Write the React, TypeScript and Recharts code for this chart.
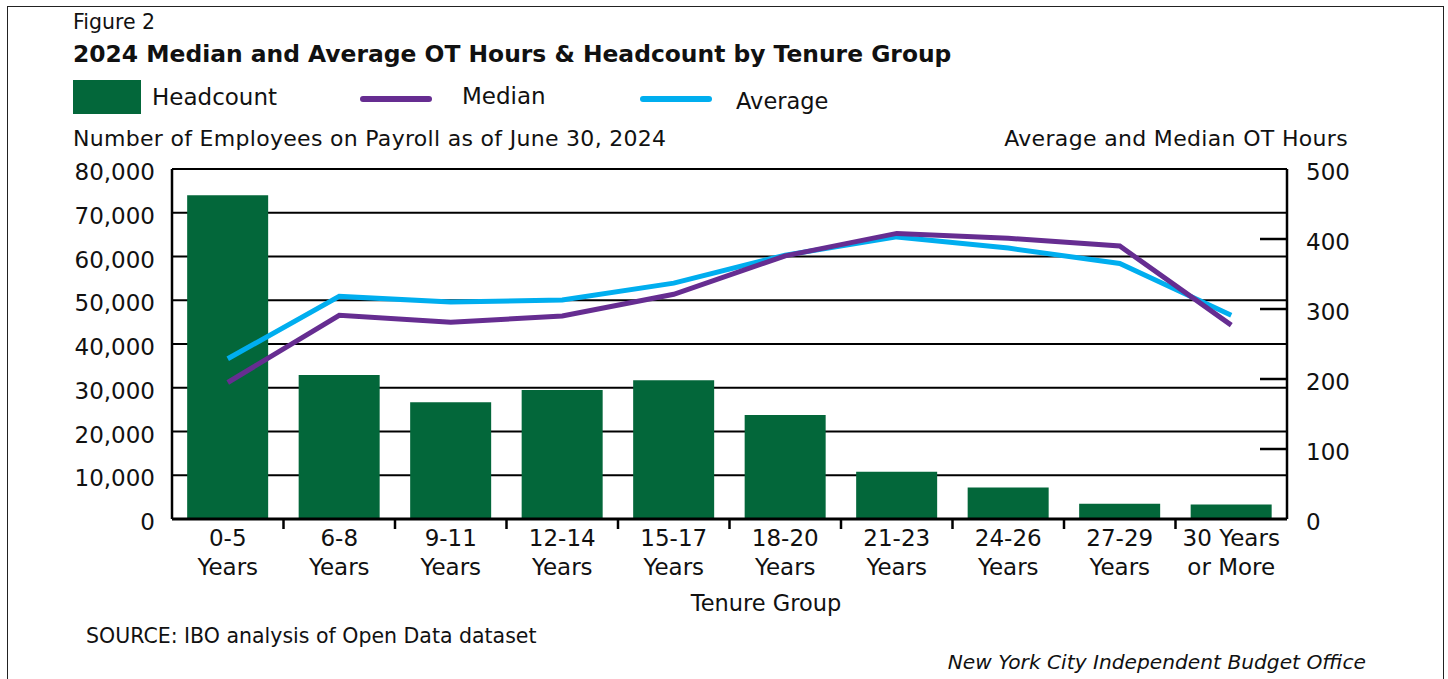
import React from 'react';
import { ComposedChart, Bar, Line, XAxis, YAxis, CartesianGrid } from 'recharts';

const categories = ['0-5 Years', '6-8 Years', '9-11 Years', '12-14 Years', '15-17 Years', '18-20 Years', '21-23 Years', '24-26 Years', '27-29 Years', '30 Years or More'];
const tickTop = ['0-5', '6-8', '9-11', '12-14', '15-17', '18-20', '21-23', '24-26', '27-29', '30 Years'];
const tickBottom = ['Years', 'Years', 'Years', 'Years', 'Years', 'Years', 'Years', 'Years', 'Years', 'or More'];
const headcount = [74000, 32900, 26700, 29500, 31700, 23800, 10800, 7200, 3500, 3300];
const median = [195, 291, 281, 290, 321, 376, 408, 401, 390, 277];
const average = [229, 318, 310, 313, 337, 377, 403, 387, 365, 291];
const leftTicks = [0, 10000, 20000, 30000, 40000, 50000, 60000, 70000, 80000];
const rightTicks = [0, 100, 200, 300, 400, 500];

const data = categories.map((c, i) => ({
  tenure: c,
  headcount: headcount[i],
  median: median[i],
  average: average[i],
}));

const GREEN = '#03673A';
const PURPLE = '#662D91';
const CYAN = '#00AEEF';
const FONT = '"DejaVu Sans", sans-serif';
const TXT = '#111';

const XTick = (props: any) => {
  const { x, y, payload } = props;
  const idx = categories.indexOf(payload.value);
  const half = payload.offset ?? 55.75;
  return (
    <g>
      {idx < categories.length - 1 && (
        <line x1={x + half} x2={x + half} y1={y} y2={y + 10} stroke="#000" strokeWidth={2.5} />
      )}
      <text x={x} y={y + 27} textAnchor="middle" fontSize={23} fontFamily={FONT} fill={TXT}>
        {tickTop[idx]}
      </text>
      <text x={x} y={y + 56} textAnchor="middle" fontSize={23} fontFamily={FONT} fill={TXT}>
        {tickBottom[idx]}
      </text>
    </g>
  );
};

const LeftTick = (props: any) => {
  const { x, y, payload } = props;
  return (
    <text x={x} y={y + 11} textAnchor="end" fontSize={23} fontFamily={FONT} fill={TXT}>
      {Number(payload.value).toLocaleString('en-US')}
    </text>
  );
};

const RightTick = (props: any) => {
  const { x, y, payload } = props;
  const axisX = x - 19;
  const v = Number(payload.value);
  return (
    <g>
      {v !== 0 && v !== 500 && (
        <line x1={axisX - 27} x2={axisX} y1={y} y2={y} stroke="#000" strokeWidth={2.5} />
      )}
      <text x={x} y={y + 11} textAnchor="start" fontSize={23} fontFamily={FONT} fill={TXT}>
        {payload.value}
      </text>
    </g>
  );
};

const abs = (s: React.CSSProperties): React.CSSProperties => ({
  position: 'absolute',
  fontFamily: FONT,
  color: TXT,
  whiteSpace: 'nowrap',
  lineHeight: 1,
  ...s,
});

export default function App() {
  return (
    <div style={{ position: 'absolute', left: 0, top: 0, width: 1448, height: 679, background: '#fff', overflow: 'hidden' }}>
      <div style={{ position: 'absolute', left: 7, top: 6, width: 1437, height: 700, border: '1.5px solid #222', boxSizing: 'border-box' }} />
      <div style={abs({ left: 73, top: 12, fontSize: 20.5 })}>Figure 2</div>
      <div style={abs({ left: 73, top: 43, fontSize: 23.4, fontWeight: 'bold' })}>
        2024 Median and Average OT Hours &amp; Headcount by Tenure Group
      </div>
      {/* legend */}
      <div style={{ position: 'absolute', left: 73, top: 80, width: 68, height: 34, background: GREEN }} />
      <div style={abs({ left: 152, top: 86, fontSize: 23 })}>Headcount</div>
      <div style={{ position: 'absolute', left: 360, top: 96, width: 72, height: 6, borderRadius: 3, background: PURPLE }} />
      <div style={abs({ left: 462, top: 85, fontSize: 23 })}>Median</div>
      <div style={{ position: 'absolute', left: 640, top: 96, width: 72, height: 6, borderRadius: 3, background: CYAN }} />
      <div style={abs({ left: 736, top: 90, fontSize: 22.5 })}>Average</div>
      {/* axis titles */}
      <div style={abs({ left: 73, top: 128, fontSize: 22, letterSpacing: 0.3 })}>Number of Employees on Payroll as of June 30, 2024</div>
      <div style={abs({ right: 1448 - 1348, top: 128, fontSize: 22, letterSpacing: 0.33 })}>Average and Median OT Hours</div>

      <div style={{ position: 'absolute', left: 0, top: 0 }}>
        <ComposedChart
          width={1448}
          height={679}
          data={data}
          margin={{ top: 169, right: 61, bottom: 80, left: 72 }}
          barCategoryGap="13.6%"
        >
          <CartesianGrid yAxisId="left" vertical={false} horizontal stroke="#000" strokeWidth={2} strokeOpacity={1} />
          <XAxis
            dataKey="tenure"
            height={80}
            interval={0}
            tickSize={0}
            tickMargin={0}
            tickLine={false}
            axisLine={{ stroke: '#000', strokeWidth: 3 }}
            tick={<XTick />}
          />
          <YAxis
            yAxisId="left"
            orientation="left"
            width={100}
            domain={[0, 80000]}
            ticks={leftTicks}
            interval={0}
            tickSize={0}
            tickMargin={17}
            tickLine={false}
            axisLine={{ stroke: '#000', strokeWidth: 2.5 }}
            tick={<LeftTick />}
          />
          <YAxis
            yAxisId="right"
            orientation="right"
            width={100}
            domain={[0, 500]}
            ticks={rightTicks}
            interval={0}
            tickSize={0}
            tickMargin={19}
            tickLine={false}
            axisLine={{ stroke: '#000', strokeWidth: 2.5 }}
            tick={<RightTick />}
          />
          <Bar yAxisId="left" dataKey="headcount" fill={GREEN} isAnimationActive={false} />
          <Line yAxisId="right" type="linear" dataKey="average" stroke={CYAN} strokeWidth={5} dot={false} activeDot={false} isAnimationActive={false} />
          <Line yAxisId="right" type="linear" dataKey="median" stroke={PURPLE} strokeWidth={5} dot={false} activeDot={false} isAnimationActive={false} />
        </ComposedChart>
      </div>

      <div style={abs({ left: 0, width: 1532, textAlign: 'center', top: 592, fontSize: 22.5 })}>Tenure Group</div>
      <div style={abs({ left: 86, top: 626, fontSize: 20.5 })}>SOURCE: IBO analysis of Open Data dataset</div>
      <div style={abs({ right: 1448 - 1366, top: 652, fontSize: 20.2, fontStyle: 'italic' })}>
        New York City Independent Budget Office
      </div>
    </div>
  );
}
